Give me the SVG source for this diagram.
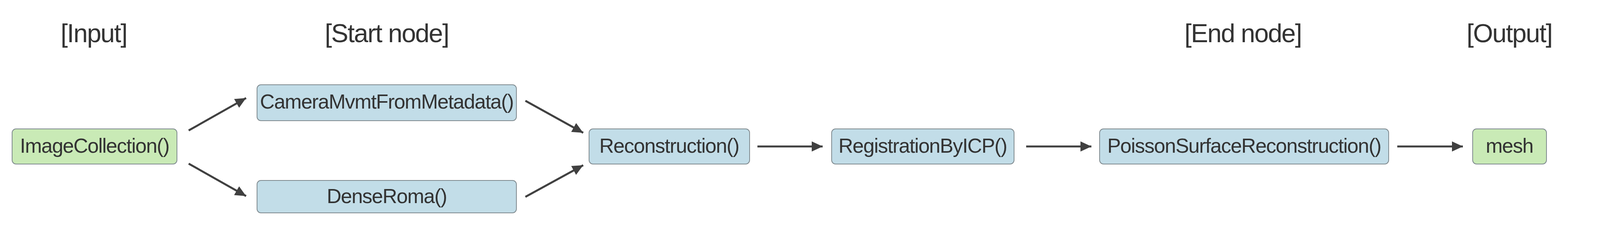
<svg xmlns="http://www.w3.org/2000/svg" width="4103" height="594" viewBox="0 0 4103 594">
<style>
.t{font-family:"Liberation Sans",Arial,sans-serif;fill:#333;text-anchor:middle}
.h{font-size:66px;letter-spacing:-2px}
.n{font-size:52px;letter-spacing:-1.5px}
.b{fill:#c2dde8;stroke:#7f8a8f;stroke-width:2}
.g{fill:#c9eab6;stroke:#7f8a8f;stroke-width:2}
.c line{stroke:#404040;stroke-width:5;marker-end:url(#a)}
</style>
<defs><marker id="a" markerUnits="userSpaceOnUse" markerWidth="30" markerHeight="30" refX="28" refY="13" orient="auto"><path d="M0,0 L28,13 L0,26 Z" fill="#404040"/></marker></defs>
<text class="t h" x="240" y="108">[Input]</text>
<text class="t h" x="990" y="108">[Start node]</text>
<text class="t h" x="3182" y="108">[End node]</text>
<text class="t h" x="3864" y="108">[Output]</text>
<g id="imagecollection"><rect class="g" x="31" y="330" width="422" height="90" rx="10"/><text class="t n" x="242" y="391">ImageCollection()</text></g>
<g id="camera"><rect class="b" x="658" y="217" width="664" height="92" rx="10"/><text class="t n" x="990" y="278">CameraMvmtFromMetadata()</text></g>
<g id="denseroma"><rect class="b" x="658" y="462" width="664" height="83" rx="10"/><text class="t n" x="990" y="520">DenseRoma()</text></g>
<g id="reconstruction"><rect class="b" x="1508" y="330" width="411" height="90" rx="10"/><text class="t n" x="1713" y="391">Reconstruction()</text></g>
<g id="registration"><rect class="b" x="2129" y="330" width="467" height="90" rx="10"/><text class="t n" x="2362" y="391">RegistrationByICP()</text></g>
<g id="poisson"><rect class="b" x="2815" y="330" width="740" height="90" rx="10"/><text class="t n" x="3185" y="391">PoissonSurfaceReconstruction()</text></g>
<g id="mesh"><rect class="g" x="3770" y="330" width="189" height="90" rx="10"/><text class="t n" x="3864" y="391">mesh</text></g>
<g class="c" id="connectors">
<line x1="483" y1="334" x2="630" y2="251"/>
<line x1="483" y1="419" x2="630" y2="502"/>
<line x1="1345" y1="258" x2="1493" y2="340"/>
<line x1="1345" y1="504" x2="1493" y2="423"/>
<line x1="1939" y1="375" x2="2106" y2="375"/>
<line x1="2627" y1="375" x2="2794" y2="375"/>
<line x1="3577" y1="375" x2="3745" y2="375"/>
</g>
</svg>
